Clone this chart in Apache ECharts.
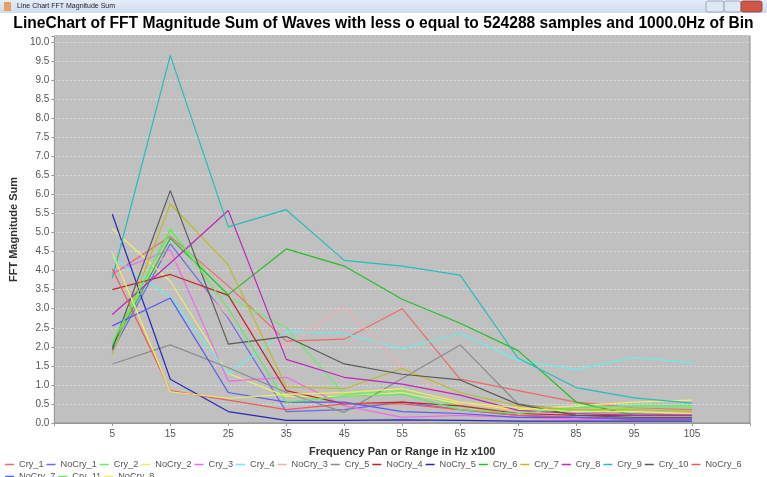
<!DOCTYPE html>
<html>
<head>
<meta charset="utf-8">
<script src="https://cdn.jsdelivr.net/npm/echarts@6/dist/echarts.min.js"></script>
<style>
html,body{margin:0;padding:0;background:#fff;}
#c{width:767px;height:477px;}
</style>
</head>
<body>
<div id="c"></div>
<script>
const categories = [5, 15, 25, 35, 45, 55, 65, 75, 85, 95, 105];
const seriesNames = ['Cry_1','NoCry_1','Cry_2','NoCry_2','Cry_3','Cry_4','NoCry_3','Cry_5','NoCry_4','NoCry_5','Cry_6','Cry_7','Cry_8','Cry_9','Cry_10','NoCry_6','NoCry_7','Cry_11','NoCry_8'];
const Cry_1   = [3.9, 4.9, 3.6, 2.15, 2.2, 3.0, 1.15, 0.85, 0.55, 0.4, 0.35];
const NoCry_1 = [1.9, 4.7, 2.75, 0.3, 0.35, 0.55, 0.35, 0.2, 0.15, 0.12, 0.1];
const Cry_2   = [2.05, 5.05, 3.3, 2.5, 0.75, 0.85, 0.45, 0.3, 0.3, 0.4, 0.4];
const NoCry_2 = [5.1, 3.72, 1.3, 0.7, 0.7, 0.8, 0.5, 0.35, 0.45, 0.55, 0.6];
const Cry_3   = [3.95, 4.55, 1.1, 1.2, 0.45, 0.15, 0.2, 0.15, 0.1, 0.1, 0.1];
const Cry_4   = [4.35, 3.3, 1.3, 2.4, 2.35, 1.95, 2.35, 1.65, 1.4, 1.72, 1.58];
const NoCry_3 = [3.7, 4.4, 2.8, 2.0, 3.05, 1.45, 0.5, 0.3, 0.2, 0.2, 0.15];
const Cry_5   = [1.55, 2.05, 1.45, 0.8, 0.28, 1.17, 2.05, 0.5, 0.3, 0.25, 0.2];
const NoCry_4 = [3.5, 3.9, 3.35, 0.85, 0.5, 0.55, 0.45, 0.25, 0.2, 0.2, 0.2];
const NoCry_5 = [5.48, 1.15, 0.3, 0.07, 0.07, 0.08, 0.07, 0.05, 0.05, 0.05, 0.05];
const Cry_6   = [2.0, 4.85, 3.37, 4.57, 4.12, 3.25, 2.62, 1.9, 0.55, 0.2, 0.2];
const Cry_7   = [1.8, 5.75, 4.15, 0.95, 0.9, 1.43, 0.8, 0.45, 0.35, 0.35, 0.3];
const Cry_8   = [2.85, 4.2, 5.58, 1.67, 1.2, 1.02, 0.73, 0.33, 0.25, 0.2, 0.2];
const Cry_9   = [3.8, 9.65, 5.15, 5.6, 4.27, 4.12, 3.88, 1.7, 0.93, 0.66, 0.52];
const Cry_10  = [1.95, 6.1, 2.07, 2.27, 1.55, 1.28, 1.13, 0.49, 0.2, 0.15, 0.15];
const NoCry_6 = [4.05, 0.85, 0.6, 0.35, 0.5, 0.5, 0.35, 0.2, 0.15, 0.1, 0.1];
const NoCry_7 = [2.55, 3.28, 0.8, 0.55, 0.55, 0.3, 0.25, 0.15, 0.15, 0.1, 0.1];
const Cry_11  = [2.1, 5.1, 3.0, 0.55, 0.7, 0.75, 0.35, 0.25, 0.4, 0.45, 0.45];
const NoCry_8 = [4.47, 0.82, 0.65, 0.75, 0.8, 0.9, 0.55, 0.4, 0.3, 0.3, 0.25];
const seriesValues = [Cry_1, NoCry_1, Cry_2, NoCry_2, Cry_3, Cry_4, NoCry_3, Cry_5, NoCry_4, NoCry_5, Cry_6, Cry_7, Cry_8, Cry_9, Cry_10, NoCry_6, NoCry_7, Cry_11, NoCry_8];
const baseColors = ['#FF5555','#5555FF','#55FF55','#FFFF55','#FF55FF','#55FFFF','#FFAFAF','#808080','#C00000','#0000C0','#00C000','#C0C000','#C000C0','#00C0C0','#404040','#FF4040','#4040FF','#40FF40','#FFFF40'];
const yTicks = [0.0,0.5,1.0,1.5,2.0,2.5,3.0,3.5,4.0,4.5,5.0,5.5,6.0,6.5,7.0,7.5,8.0,8.5,9.0,9.5,10.0];

// soften colours slightly toward the grey plot background (washed look of the reference)
function mix(hex, t) {
  const n = parseInt(hex.slice(1), 16);
  const r = (n >> 16) & 255, g = (n >> 8) & 255, b = n & 255;
  const m = 176;
  const f = c => Math.round(c * (1 - t) + m * t);
  return 'rgb(' + f(r) + ',' + f(g) + ',' + f(b) + ')';
}
const colors = baseColors.map(c => mix(c, 0.22));

const chart = echarts.init(document.getElementById('c'), null, {renderer:'canvas'});
const FONT = 'Liberation Sans';
const option = {
  animation: false,
  backgroundColor: '#ffffff',
  color: colors,
  title: {
    text: 'LineChart of FFT Magnitude Sum of Waves with less o equal to 524288 samples and 1000.0Hz of Bin',
    left: 'center', top: 11,
    textStyle: {fontFamily: FONT, fontWeight: 'bold', fontSize: 15.6, color: '#000'}
  },
  legend: {
    left: 5, top: 460, width: 742,
    icon: 'rect', itemWidth: 9, itemHeight: 1.5, itemGap: 3,
    padding: 0,
    textStyle: {fontFamily: FONT, fontSize: 9.2, color: '#555'},
    data: seriesNames
  },
  grid: {
    left: 53, top: 36, width: 697, height: 387,
    show: true, backgroundColor: '#c0c0c0', borderColor: '#8a8a8a', borderWidth: 1
  },
  xAxis: {
    type: 'value', min: -5, max: 115, interval: 10,
    name: 'Frequency Pan or Range in Hz x100', nameLocation: 'middle', nameGap: 23,
    nameTextStyle: {fontFamily: FONT, fontWeight: 'bold', fontSize: 11, color: '#333'},
    axisLine: {show: true, onZero: false, lineStyle: {color: '#999'}},
    axisTick: {show: true, length: 3, lineStyle: {color: '#999'}},
    axisLabel: {fontFamily: FONT, fontSize: 10, color: '#555', margin: 6,
      formatter: v => categories.indexOf(Math.round(v)) >= 0 ? String(Math.round(v)) : ''},
    splitLine: {show: false}
  },
  yAxis: {
    type: 'value', min: 0, max: 10.16, interval: 0.5,
    name: 'FFT Magnitude Sum', nameLocation: 'middle', nameGap: 29,
    nameTextStyle: {fontFamily: FONT, fontWeight: 'bold', fontSize: 11, color: '#333'},
    axisLine: {show: true, onZero: false, lineStyle: {color: '#999'}},
    axisTick: {show: true, length: 3, lineStyle: {color: '#999'}},
    axisLabel: {fontFamily: FONT, fontSize: 10, color: '#555', margin: 5,
      formatter: v => { const r = Math.round(v*2)/2; return (Math.abs(v - r) < 1e-6 && yTicks.indexOf(r) >= 0) ? r.toFixed(1) : ''; }},
    splitLine: {show: true, lineStyle: {color: '#f0f0f0', width: 0.6, type: [2, 2]}}
  },
  graphic: [
    {type:'rect', shape:{x:0,y:0,width:767,height:13}, style:{fill:new echarts.graphic.LinearGradient(0,0,0,1,[{offset:0,color:'#e4edf8'},{offset:1,color:'#cfdcee'}])}, z:100},
    {type:'rect', shape:{x:4,y:2,width:7,height:9}, style:{fill:'#e8a060'}, z:101},
    {type:'text', left:17, top:3, style:{text:'Line Chart FFT Magnitude Sum', font:'7px ' + FONT, fill:'#222'}, z:101},
    {type:'rect', shape:{x:706,y:1,width:18,height:11,r:2}, style:{fill:'#dfe7f2', stroke:'#8a9ab5', lineWidth:0.8}, z:101},
    {type:'rect', shape:{x:724,y:1,width:17,height:11,r:2}, style:{fill:'#dfe7f2', stroke:'#8a9ab5', lineWidth:0.8}, z:101},
    {type:'rect', shape:{x:741,y:1,width:21,height:11,r:2}, style:{fill:'#d0564a', stroke:'#8a4040', lineWidth:0.8}, z:101}
  ],
  series: seriesNames.map((n, i) => ({
    name: n, type: 'line', symbol: 'none', silent: true,
    lineStyle: {width: 1.2, color: colors[i]},
    itemStyle: {color: colors[i]},
    data: categories.map((c, j) => [c, seriesValues[i][j]])
  }))
};
chart.setOption(option);
</script>
</body>
</html>
